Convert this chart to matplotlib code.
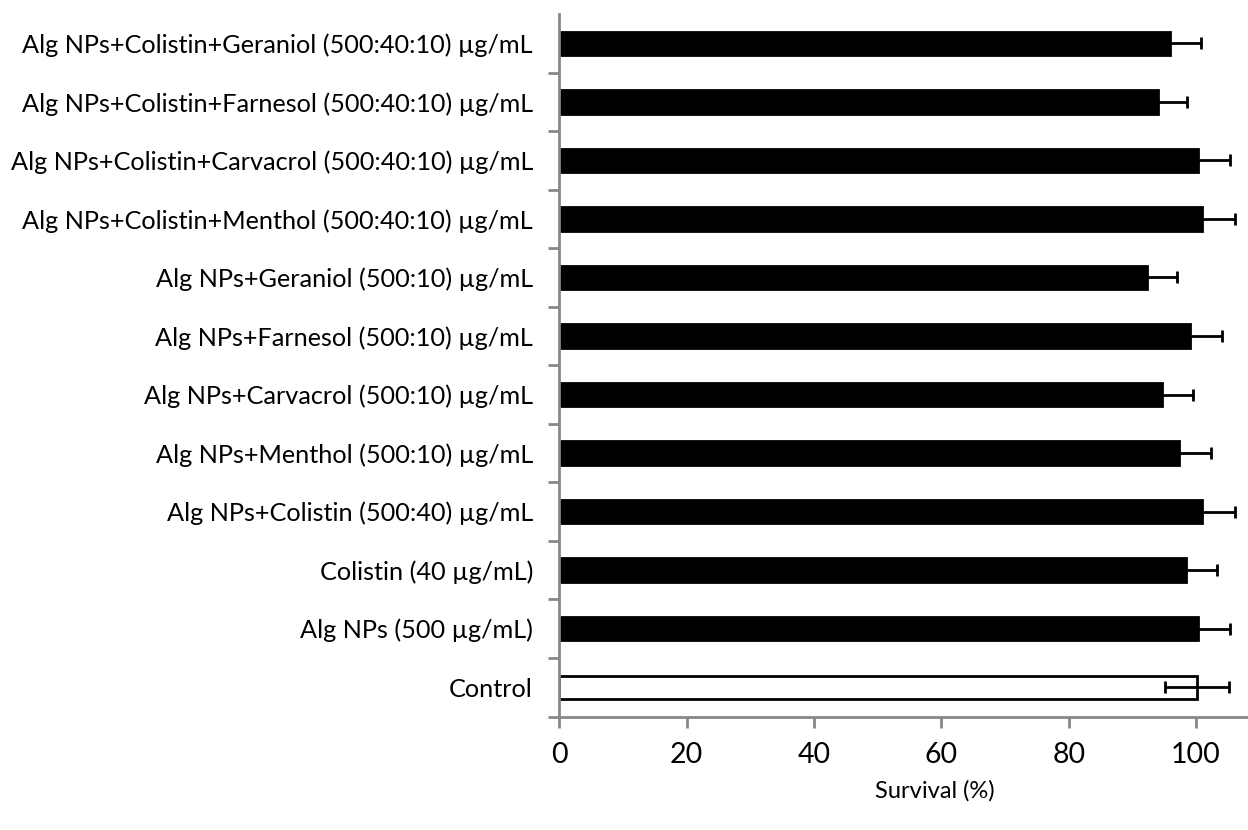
import matplotlib
matplotlib.use("Agg")
import matplotlib.pyplot as plt

categories = [
    "Control",
    "Alg NPs (500 µg/mL)",
    "Colistin (40 µg/mL)",
    "Alg NPs+Colistin (500:40) µg/mL",
    "Alg NPs+Menthol (500:10) µg/mL",
    "Alg NPs+Carvacrol (500:10) µg/mL",
    "Alg NPs+Farnesol (500:10) µg/mL",
    "Alg NPs+Geraniol (500:10) µg/mL",
    "Alg NPs+Colistin+Menthol (500:40:10) µg/mL",
    "Alg NPs+Colistin+Carvacrol (500:40:10) µg/mL",
    "Alg NPs+Colistin+Farnesol (500:40:10) µg/mL",
    "Alg NPs+Colistin+Geraniol (500:40:10) µg/mL",
]
survival = [100.1, 100.3, 98.4, 100.9, 97.3, 94.7, 99.1, 92.3, 100.9, 100.3, 94.0, 95.9]
errors = [5.0, 5.1, 4.9, 5.2, 5.0, 4.8, 5.0, 4.7, 5.2, 5.1, 4.6, 4.8]
xticks = [0, 20, 40, 60, 80, 100]

plt.rcParams['font.family'] = ['Lato', 'DejaVu Sans']

fig = plt.figure(figsize=(12.48, 8.30), dpi=100)
ax = fig.add_axes([559.3 / 1248, 1 - 716.5 / 830, (1247 - 559.3) / 1248, (716.5 - 14) / 830])

pos = list(range(len(categories)))
colors = ['white'] + ['black'] * (len(categories) - 1)
ax.barh(pos, survival, height=0.4, color=colors, edgecolor='black', linewidth=2, zorder=2)
ax.errorbar(survival, pos, xerr=errors, fmt='none', ecolor='black', elinewidth=2,
            capsize=4.5, capthick=2, zorder=3)

ax.set_xlim(0, 108)
ax.set_ylim(-0.5, len(categories) - 0.5)
ax.set_xticks(xticks)
ax.set_xticklabels([str(t) for t in xticks], fontsize=20.5)

# category labels without ticks, ticks at boundaries
ax.set_yticks(pos)
ax.set_yticklabels(categories, fontsize=18.2)
ax.tick_params(axis='y', which='major', length=0, pad=19)
ax.set_yticks([p + 0.5 for p in pos[:-1]] + [-0.5], minor=True)
ax.tick_params(axis='y', which='minor', length=8, width=2, color='#888888', direction='out')
ax.tick_params(axis='x', which='major', length=8, width=2, color='#888888', direction='out', pad=10)

for s in ['top', 'right']:
    ax.spines[s].set_visible(False)
for s in ['left', 'bottom']:
    ax.spines[s].set_color('#888888')
    ax.spines[s].set_linewidth(2)

ax.set_xlabel("Survival (%)", fontsize=17)
ax.xaxis.set_label_coords((935 - 559.3) / (1247 - 559.3), -0.09)

fig.savefig("out.png", dpi=100)
